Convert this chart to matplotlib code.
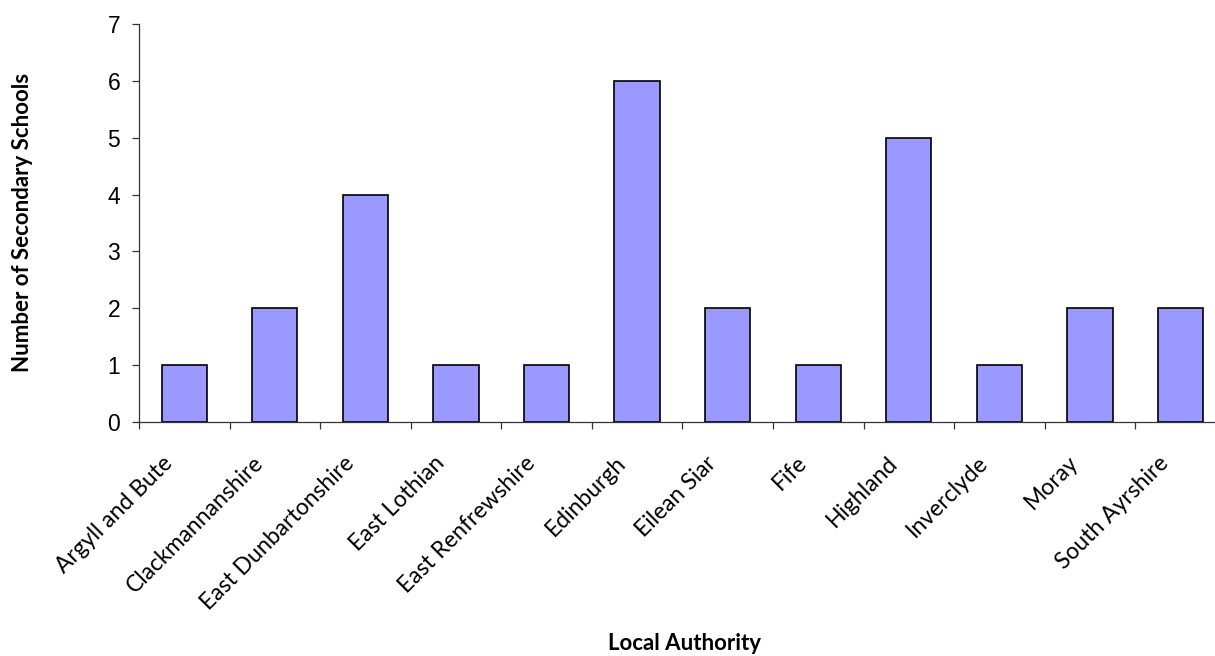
import matplotlib
matplotlib.use("Agg")
import matplotlib.pyplot as plt
import matplotlib.transforms as mtransforms
import numpy as np

categories = ["Argyll and Bute", "Clackmannanshire", "East Dunbartonshire", "East Lothian",
              "East Renfrewshire", "Edinburgh", "Eilean Siar", "Fife", "Highland",
              "Inverclyde", "Moray", "South Ayrshire"]
values = [1, 2, 4, 1, 1, 6, 2, 1, 5, 1, 2, 2]
yticks = [0, 1, 2, 3, 4, 5, 6, 7]

W, H = 1215, 656
fig = plt.figure(figsize=(W / 100, H / 100), dpi=100)
n = len(categories)
left_px, right_px = 139, 139 + 12 * 90.57
bottom_px, top_px = 422, 24
ax = fig.add_axes([left_px / W, 1 - bottom_px / H, (right_px - left_px) / W, (bottom_px - top_px) / H])

x = np.arange(n)
ax.bar(x, values, width=0.5, color="#9999FF", edgecolor="black", linewidth=1.2, zorder=2)
ax.set_xlim(-0.5, n - 0.5)
ax.set_ylim(0, 7)

for s in ["top", "right"]:
    ax.spines[s].set_visible(False)
for s in ["left", "bottom"]:
    ax.spines[s].set_linewidth(0.9)
    ax.spines[s].set_color("#333333")

ax.set_yticks(yticks)
ax.set_yticklabels([str(v) for v in yticks], fontfamily="Liberation Sans", fontsize=16.5)
ax.tick_params(axis="y", direction="out", length=5, width=0.9, pad=8.5, color="#333333")

ax.set_xticks(x)
ax.set_xticklabels(categories, rotation=45, ha="right", va="center", rotation_mode="anchor",
                   fontfamily="Lato", fontsize=16.5)
ax.tick_params(axis="x", which="major", length=0, pad=27)
ax.set_xticks(np.arange(-0.5, n, 1.0), minor=True)
ax.tick_params(axis="x", which="minor", direction="out", length=5, width=0.9, color="#333333")
offset = mtransforms.ScaledTranslation(-15 / 100, 0, fig.dpi_scale_trans)
for lbl in ax.get_xticklabels():
    lbl.set_transform(lbl.get_transform() + offset)

fig.text(23 / W, 1 - 222 / H, "Number of Secondary Schools", rotation=90, ha="center", va="center",
         fontfamily="Lato", fontweight="bold", fontsize=16)
fig.text(684 / W, 1 - 644 / H, "Local Authority", ha="center", va="center",
         fontfamily="Lato", fontweight="bold", fontsize=16)

fig.savefig("out.png", dpi=100)
